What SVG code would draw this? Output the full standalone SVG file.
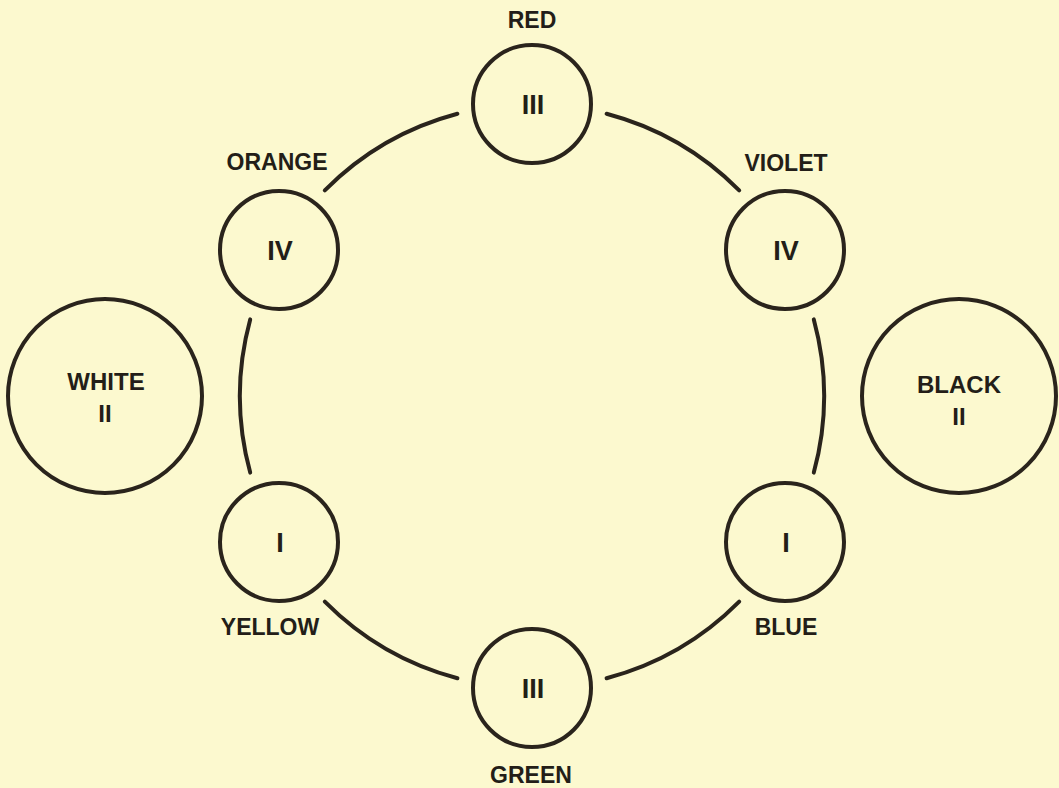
<svg xmlns="http://www.w3.org/2000/svg" width="1059" height="788" viewBox="0 0 1059 788">
<style>
.ring{fill:none;stroke:#2a241c;stroke-width:4}
.arc{fill:none;stroke:#2a241c;stroke-width:4;stroke-linecap:round}
.lbl{font-family:"Liberation Sans",Arial,sans-serif;font-weight:bold;font-size:23px;fill:#231e18;text-anchor:middle}
.num{font-family:"Liberation Sans",Arial,sans-serif;font-weight:bold;font-size:27px;fill:#231e18;text-anchor:middle}
.big{font-family:"Liberation Sans",Arial,sans-serif;font-weight:bold;font-size:24px;fill:#231e18;text-anchor:middle}
</style>
<rect width="1059" height="788" fill="#fcf9cf"/>
<g id="connectors">
<path class="arc" d="M739.2,190.3 A292,292 0 0 0 606.6,113.7"/>
<path class="arc" d="M457.4,113.7 A292,292 0 0 0 324.8,190.3"/>
<path class="arc" d="M250.2,319.4 A292,292 0 0 0 250.2,472.6"/>
<path class="arc" d="M324.8,601.7 A292,292 0 0 0 457.4,678.3"/>
<path class="arc" d="M606.6,678.3 A292,292 0 0 0 739.2,601.7"/>
<path class="arc" d="M813.8,472.6 A292,292 0 0 0 813.8,319.4"/>
</g>
<g id="red">
<circle class="ring" cx="532" cy="104" r="59"/>
<text class="num" x="533" y="114">III</text>
<text class="lbl" x="532" y="28">RED</text>
</g>
<g id="orange">
<circle class="ring" cx="279" cy="250" r="59"/>
<text class="num" x="280" y="260">IV</text>
<text class="lbl" x="277" y="170">ORANGE</text>
</g>
<g id="violet">
<circle class="ring" cx="785" cy="250" r="59"/>
<text class="num" x="786" y="260">IV</text>
<text class="lbl" x="786" y="171">VIOLET</text>
</g>
<g id="yellow">
<circle class="ring" cx="279" cy="542" r="59"/>
<text class="num" x="280" y="552">I</text>
<text class="lbl" x="270" y="635">YELLOW</text>
</g>
<g id="blue">
<circle class="ring" cx="785" cy="542" r="59"/>
<text class="num" x="786" y="552">I</text>
<text class="lbl" x="786" y="635">BLUE</text>
</g>
<g id="green">
<circle class="ring" cx="532" cy="688" r="59"/>
<text class="num" x="533" y="698">III</text>
<text class="lbl" x="531" y="783">GREEN</text>
</g>
<g id="white">
<circle class="ring" cx="105" cy="396" r="97"/>
<text class="big" x="106" y="390">WHITE</text>
<text class="big" x="105" y="422">II</text>
</g>
<g id="black">
<circle class="ring" cx="959" cy="396" r="97"/>
<text class="big" x="959" y="393">BLACK</text>
<text class="big" x="959" y="425">II</text>
</g>
</svg>
